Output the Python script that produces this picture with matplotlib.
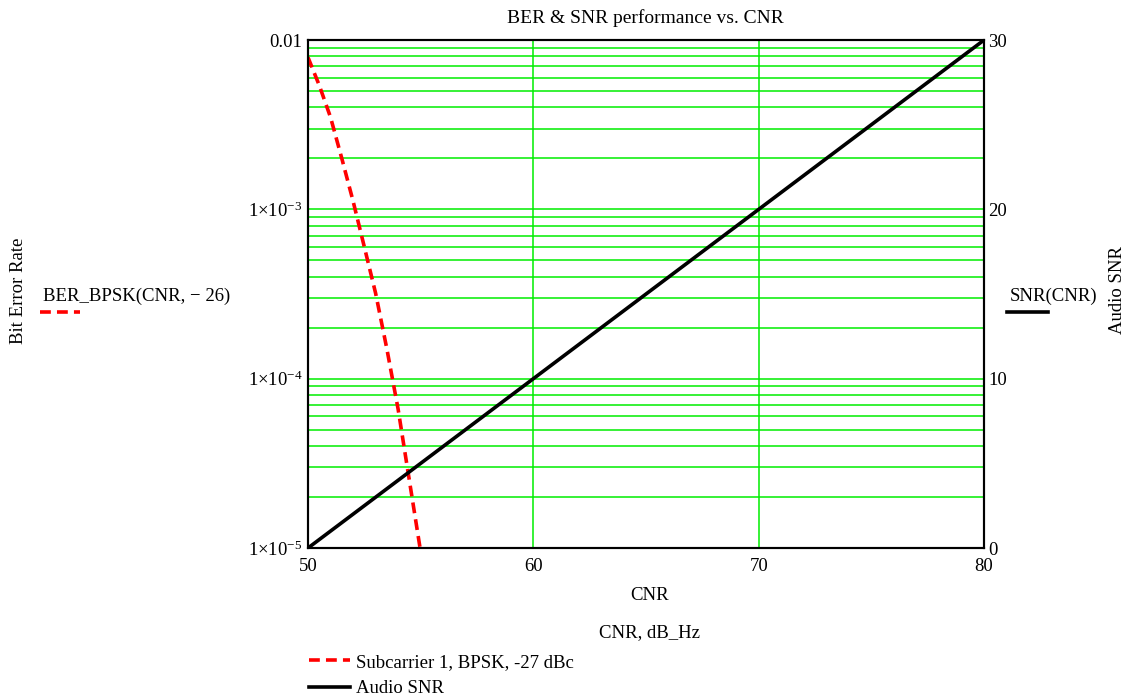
"""
ber_snr_plot.py
BER & SNR performance vs. CNR (Mathcad-style look)
"""

import math
import matplotlib
matplotlib.use("Agg")
import matplotlib.pyplot as plt
from matplotlib.lines import Line2D
from matplotlib.ticker import FixedLocator, FuncFormatter, LogLocator, NullFormatter

# ------------------ DATA ------------------
cnr_ber = [50, 50.5, 51, 51.5, 52, 52.5, 53, 53.5, 54, 54.5, 55]
ber_bpsk = [7.9e-3, 5.4e-3, 3.5e-3, 2.0e-3, 1.12e-3, 6.0e-4, 3.2e-4,
            1.5e-4, 6.6e-5, 2.5e-5, 9.5e-6]

cnr_snr = list(range(50, 81))
audio_snr = [0, 1, 2, 3, 4, 5, 6, 7, 8, 9, 10, 11, 12, 13, 14, 15, 16, 17,
             18, 19, 20, 21, 22, 23, 24, 25, 26, 27, 28, 29, 30]

x_ticks = [50, 60, 70, 80]
ber_ticks = [1e-5, 1e-4, 1e-3, 1e-2]
snr_ticks = [0, 10, 20, 30]

# ------------------ STYLE ------------------
FONT = "Liberation Serif"
plt.rcParams["font.family"] = [FONT, "DejaVu Serif"]
plt.rcParams["mathtext.fontset"] = "custom"
plt.rcParams["mathtext.rm"] = FONT
plt.rcParams["mathtext.it"] = FONT
plt.rcParams["mathtext.default"] = "rm"
FS = 13.5
GRID = "#00ee00"
RED = "#ff0000"
DASH = (0, (3.0, 1.7))


def ber_label(v, pos):
    if abs(v - 1e-2) < 1e-9:
        return "0.01"
    exp = int(round(math.log10(v)))
    return r"$1{\times}10^{%d}$" % exp


fig = plt.figure(figsize=(11.29, 7.0), dpi=100)
ax = fig.add_axes([0.2728, 0.2171, 0.5988, 0.7257])
ax2 = ax.twinx()

# BER (left, log)
ax.set_yscale("log")
ax.set_xlim(50, 80)
ax.set_ylim(1e-5, 1e-2)
ber_line, = ax.plot(cnr_ber, ber_bpsk, color=RED, linewidth=2.6,
                    linestyle=DASH, zorder=5)

ax.xaxis.set_major_locator(FixedLocator(x_ticks))
ax.yaxis.set_major_locator(FixedLocator(ber_ticks))
ax.yaxis.set_major_formatter(FuncFormatter(ber_label))
ax.yaxis.set_minor_locator(LogLocator(base=10, subs=range(2, 10)))
ax.yaxis.set_minor_formatter(NullFormatter())
ax.grid(True, which="major", color=GRID, linewidth=1.1)
ax.grid(True, which="minor", axis="y", color=GRID, linewidth=1.1)
ax.tick_params(which="both", length=0, labelsize=FS)
ax.tick_params(axis="x", pad=7)
ax.tick_params(axis="y", pad=4)

# SNR (right, linear)
ax2.set_ylim(0, 30)
ax2.yaxis.set_major_locator(FixedLocator(snr_ticks))
snr_line, = ax2.plot(cnr_snr, audio_snr, color="black", linewidth=2.6, zorder=5)
ax2.tick_params(length=0, labelsize=FS, pad=3)

for a in (ax, ax2):
    for s in a.spines.values():
        s.set_linewidth(1.5)
        s.set_color("black")

# ------------------ TEXT ------------------
fig.text(0.572, 0.974, "BER & SNR performance vs. CNR", ha="center", va="center",
         fontsize=14)
fig.text(0.5755, 0.149, "CNR", ha="center", va="center", fontsize=FS)
fig.text(0.5755, 0.097, "CNR, dB_Hz", ha="center", va="center", fontsize=FS)
fig.text(0.016, 0.585, "Bit Error Rate", rotation=90, ha="center", va="center",
         fontsize=FS)
fig.text(0.990, 0.585, "Audio SNR", rotation=90, ha="center", va="center",
         fontsize=FS)

# Mathcad-style trace labels beside the axes
fig.text(0.038, 0.576, "BER_BPSK(CNR, \u2212 26)", ha="left", va="center",
         fontsize=FS)
fig.add_artist(Line2D([0.035, 0.071], [0.554, 0.554], transform=fig.transFigure,
                      color=RED, linewidth=2.6, linestyle=DASH))
fig.text(0.894, 0.576, "SNR(CNR)", ha="left", va="center", fontsize=FS)
fig.add_artist(Line2D([0.892, 0.928], [0.554, 0.554], transform=fig.transFigure,
                      color="black", linewidth=2.6))

# bottom legend
fig.legend([ber_line, snr_line], ["Subcarrier 1, BPSK, -27 dBc", "Audio SNR"],
           loc="upper left", bbox_to_anchor=(0.2735, 0.066), frameon=False,
           fontsize=FS, handlelength=2.2, handletextpad=0.3, labelspacing=0.5,
           borderpad=0.0, borderaxespad=0.0)

fig.savefig("out.png", dpi=100)
